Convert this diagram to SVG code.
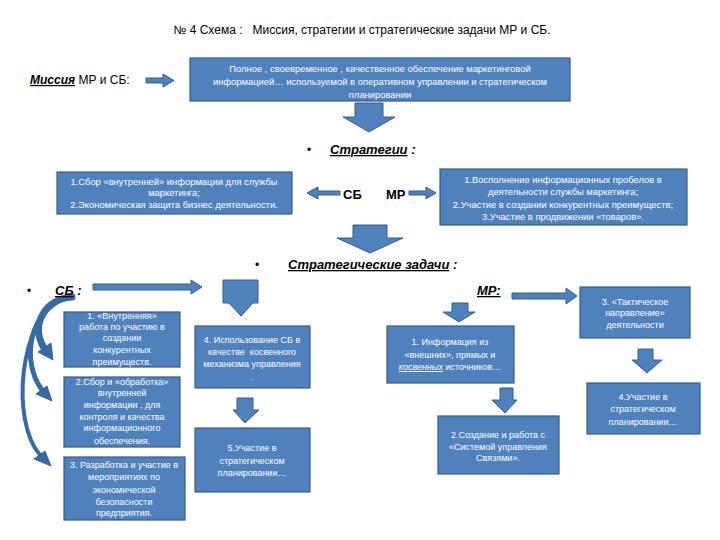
<svg xmlns="http://www.w3.org/2000/svg" width="720" height="540" viewBox="0 0 720 540">
<style>
text{font-family:"Liberation Sans","DejaVu Sans",sans-serif;fill:#000}
.box{fill:#4f81bd;stroke:#385d8a;stroke-width:1.2}
.bt{fill:#fff;font-size:9px;text-anchor:middle}
.st{fill:#fff;font-size:9.4px;text-anchor:middle}
.arr{fill:#4f81bd;stroke:#385d8a;stroke-width:1}
.curve{fill:none;stroke:#3a6aa3;stroke-linecap:round}
.head{fill:#3a6aa3;stroke:#2c5585;stroke-width:0.8}
.h{font-size:13px;font-weight:bold;font-style:italic}
</style>
<rect width="720" height="540" fill="#fff"/>
<text x="362" y="34" font-size="12" text-anchor="middle" xml:space="preserve">№ 4 Схема :   Миссия, стратегии и стратегические задачи МР и СБ.</text>
<text x="30" y="84" font-size="12"><tspan font-weight="bold" font-style="italic" text-decoration="underline">Миссия</tspan> МР и СБ:</text>
<g id="connectors">
<polygon class="arr" points="146,78 163,78 163,74 174,80.5 163,87 163,83 146,83"/>
<polygon class="arr" points="355,103 383,103 383,117 395,117 369,132 343,117 355,117"/>
<polygon class="arr" points="340,191 318,191 318,187 307,193 318,199 318,195 340,195"/>
<polygon class="arr" points="409,191 426,191 426,187 436,193 426,199 426,195 409,195"/>
<polygon class="arr" points="353,225 387,225 387,238 403,238 370,253 337,238 353,238"/>
<polygon class="arr" points="93,284 191,284 191,280 202,287 191,294 191,290 93,290"/>
<polygon class="arr" points="223,280 258,280 258,303 253,303 241,316 229,303 223,303"/>
<polygon class="arr" points="237,398 253,398 253,410 259,410 245,423 233,410 237,410"/>
<polygon class="arr" points="512,293 566,293 566,288 577,296 566,304 566,299 512,299"/>
<polygon class="arr" points="452,303 468,303 468,312 475,312 459,322 443,312 452,312"/>
<polygon class="arr" points="500,388 513,388 513,400 517,400 505,413 492,400 500,400"/>
<polygon class="arr" points="638,349 653,349 653,360 662,360 647,373 632,360 638,360"/>
<path class="curve" stroke-width="7" d="M72,297 C45,299 30,325 44,348"/>
<polygon class="head" points="38,352 51,343 53,360"/>
<path class="curve" stroke-width="5" d="M66,298 C30,310 20,360 42,390"/>
<polygon class="head" points="36,394 47,386 52,401"/>
<path class="curve" stroke-width="4" d="M60,299 C20,320 10,420 40,455"/>
<polygon class="head" points="34,459 45,451 51,466"/>
</g>
<g id="mission">
<rect class="box" x="190" y="58" width="380" height="43"/>
<text class="st" x="380" y="72">Полное , своевременное , качественное обеспечение  маркетинговой</text>
<text class="st" x="380" y="85">информацией… используемой в оперативном управлении и стратегическом</text>
<text class="st" x="380" y="98">планировании</text>
</g>
<text x="307" y="154" font-size="12">•</text>
<text x="330" y="154" class="h"><tspan text-decoration="underline">Стратегии</tspan> :</text>
<g id="strat-sb">
<rect class="box" x="57" y="172" width="235" height="42"/>
<text class="st" x="174" y="185">1.Сбор «внутренней» информации для службы</text>
<text class="st" x="174" y="196">маркетинга;</text>
<text class="st" x="174" y="208">2.Экономическая защита бизнес деятельности.</text>
</g>
<text x="343" y="199" font-size="13" font-weight="bold">СБ</text>
<text x="386" y="199" font-size="13" font-weight="bold">МР</text>
<g id="strat-mr">
<rect class="box" x="440" y="169" width="247" height="56"/>
<text class="st" x="563" y="183">1.Восполнение информационных пробелов в</text>
<text class="st" x="563" y="195">деятельности службы маркетинга;</text>
<text class="st" x="563" y="208">2.Участие в создании конкурентных преимуществ;</text>
<text class="st" x="563" y="220">3.Участие в продвижении «товаров».</text>
</g>
<text x="255" y="269" font-size="12">•</text>
<text x="288" y="269" class="h"><tspan text-decoration="underline">Стратегические задачи</tspan> :</text>
<text x="27" y="295" font-size="12">•</text>
<text x="55" y="295" class="h"><tspan text-decoration="underline">СБ</tspan> :</text>
<text x="477" y="295" class="h" text-decoration="underline">МР:</text>
<g id="sb1">
<rect class="box" x="64" y="312" width="116" height="55"/>
<text class="bt" x="122" y="319">1. «Внутренняя»</text>
<text class="bt" x="122" y="330">работа по участию в</text>
<text class="bt" x="122" y="341">создании</text>
<text class="bt" x="122" y="353">конкурентных</text>
<text class="bt" x="122" y="365">преимуществ.</text>
</g>
<g id="sb2">
<rect class="box" x="64" y="377" width="116" height="70"/>
<text class="bt" x="122" y="385">2.Сбор и «обработка»</text>
<text class="bt" x="122" y="396">внутренней</text>
<text class="bt" x="122" y="408">информации , для</text>
<text class="bt" x="122" y="420">контроля и качества</text>
<text class="bt" x="122" y="431">информационного</text>
<text class="bt" x="122" y="444">обеспечения.</text>
</g>
<g id="sb3">
<rect class="box" x="64" y="457" width="121" height="63"/>
<text class="bt" x="124" y="468">3. Разработка и участие в</text>
<text class="bt" x="124" y="480">мероприятиях по</text>
<text class="bt" x="124" y="493">экономической</text>
<text class="bt" x="124" y="505">безопасности</text>
<text class="bt" x="124" y="516">предприятия.</text>
</g>
<g id="sb4">
<rect class="box" x="195" y="326" width="115" height="62"/>
<text class="bt" x="252" y="343">4. Использование СБ в</text>
<text class="bt" x="252" y="355" xml:space="preserve">качестве  косвенного</text>
<text class="bt" x="252" y="367">механизма управления</text>
<text class="bt" x="252" y="380">.</text>
</g>
<g id="sb5">
<rect class="box" x="195" y="428" width="115" height="64"/>
<text class="bt" x="252" y="451">5.Участие в</text>
<text class="bt" x="252" y="464">стратегическом</text>
<text class="bt" x="252" y="476">планировании…</text>
</g>
<g id="mr1">
<rect class="box" x="387" y="326" width="127" height="57"/>
<text class="bt" x="450" y="345">1. Информация из</text>
<text class="bt" x="450" y="358">«внешних»,  прямых и</text>
<text class="bt" x="450" y="370"><tspan font-style="italic" text-decoration="underline">косвенных</tspan> источников…</text>
</g>
<g id="mr2">
<rect class="box" x="438" y="416" width="121" height="58"/>
<text class="bt" x="498" y="438">2.Создание  и работа с</text>
<text class="bt" x="498" y="450">«Системой управления</text>
<text class="bt" x="498" y="461">Связями».</text>
</g>
<g id="mr3">
<rect class="box" x="580" y="287" width="110" height="51"/>
<text class="bt" x="635" y="305">3. «Тактическое</text>
<text class="bt" x="635" y="316">направление»</text>
<text class="bt" x="635" y="328">деятельности</text>
</g>
<g id="mr4">
<rect class="box" x="587" y="383" width="113" height="51"/>
<text class="bt" x="643" y="400">4.Участие  в</text>
<text class="bt" x="643" y="412">стратегическом</text>
<text class="bt" x="643" y="425">планировании…</text>
</g>
</svg>
